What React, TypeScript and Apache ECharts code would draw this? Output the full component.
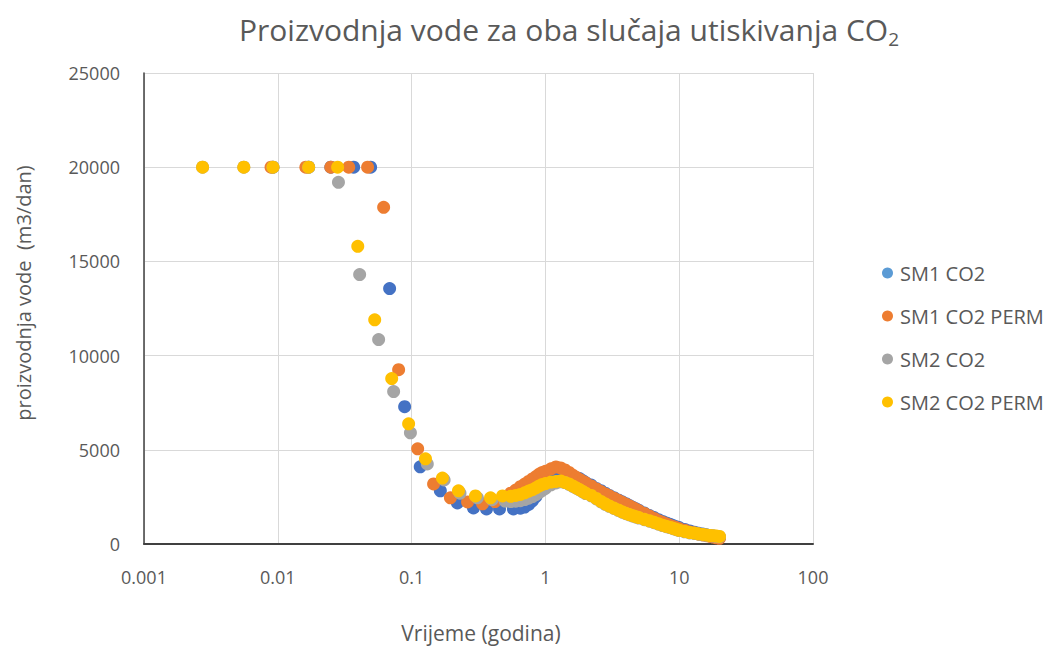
import React, { useEffect, useRef } from "react";
import * as echarts from "echarts";

// ---------- DATA ----------
const seriesNames = ["SM1 CO2", "SM1 CO2 PERM", "SM2 CO2", "SM2 CO2 PERM"];
const xTickLabels = ["0.001", "0.01", "0.1", "1", "10", "100"];
const yTickLabels = ["0", "5000", "10000", "15000", "20000", "25000"];

// shared late-time steps (years)
const denseTimes = [
  0.65, 0.7, 0.75, 0.8, 0.85, 0.9, 0.95,
  1.0, 1.1, 1.2, 1.3, 1.4, 1.5, 1.6, 1.7, 1.8, 1.9,
  2.0, 2.2, 2.4, 2.6, 2.8,
  3.0, 3.25, 3.5, 3.75,
  4.0, 4.25, 4.5, 4.75,
  5.0, 5.5, 6.0, 6.5, 7.0, 7.5, 8, 8.5, 9, 9.5, 10,
  11, 12, 13, 14, 15, 16, 17, 18, 19, 20,
];

// SM1 CO2
const sm1EarlyTimes = [0.0092, 0.017, 0.0249, 0.0369, 0.0494, 0.0685, 0.0887, 0.116, 0.164, 0.22, 0.29, 0.363, 0.454, 0.577];
const sm1EarlyRates = [20000, 20000, 20000, 20000, 20000, 13560, 7290, 4100, 2820, 2180, 1915, 1860, 1860, 1860];
const sm1DenseRates = [
  1900, 1960, 2100, 2290, 2520, 2790, 3060,
  3240, 3490, 3550, 3590, 3610, 3590, 3570, 3520, 3470, 3360,
  3260, 3130, 2950, 2830, 2700,
  2580, 2460, 2340, 2240,
  2140, 2040, 1950, 1870,
  1790, 1640, 1510, 1400, 1290, 1200, 1120, 1050, 980, 920, 870,
  770, 690, 630, 570, 530, 490, 450, 420, 380, 350,
];

// SM1 CO2 PERM
const sm1PermEarlyTimes = [0.0089, 0.0162, 0.0249, 0.0339, 0.0469, 0.0618, 0.08, 0.111, 0.146, 0.195, 0.262, 0.339, 0.42, 0.5, 0.55, 0.6];
const sm1PermEarlyRates = [20000, 20000, 20000, 20000, 20000, 17870, 9250, 5050, 3190, 2450, 2230, 2130, 2250, 2500, 2700, 2860];
const sm1PermDenseRates = [
  3040, 3180, 3320, 3450, 3580, 3710, 3800,
  3860, 3990, 4090, 4040, 3930, 3800, 3660, 3540, 3430, 3330,
  3250, 3080, 2920, 2780, 2660,
  2555, 2430, 2320, 2210,
  2110, 2020, 1930, 1840,
  1760, 1620, 1480, 1360, 1240, 1150, 1070, 990, 930, 870, 820,
  730, 640, 580, 520, 480, 440, 400, 370, 330, 300,
];

// SM2 CO2
const sm2EarlyTimes = [0.00274, 0.00557, 0.0092, 0.017, 0.0284, 0.0409, 0.0567, 0.0734, 0.098, 0.131, 0.175, 0.23, 0.31, 0.4, 0.5, 0.55, 0.6];
const sm2EarlyRates = [20000, 20000, 20000, 20000, 19200, 14300, 10850, 8090, 5900, 4250, 3400, 2700, 2450, 2350, 2280, 2250, 2270];
const sm2DenseRates = [
  2300, 2360, 2430, 2520, 2620, 2740, 2850,
  2950, 3140, 3240, 3300, 3260, 3170, 3060, 2960, 2870, 2770,
  2680, 2560, 2400, 2240, 2110,
  2000, 1890, 1790, 1690,
  1610, 1540, 1480, 1430,
  1380, 1290, 1210, 1130, 1050, 980, 920, 870, 810, 760, 710,
  650, 590, 560, 520, 490, 460, 440, 420, 400, 380,
];

// SM2 CO2 PERM
const sm2PermEarlyTimes = [0.00274, 0.00557, 0.0092, 0.017, 0.028, 0.0396, 0.053, 0.071, 0.095, 0.127, 0.17, 0.224, 0.3, 0.389, 0.478, 0.55, 0.6];
const sm2PermEarlyRates = [20000, 20000, 20000, 20000, 20000, 15800, 11900, 8780, 6380, 4520, 3500, 2820, 2550, 2450, 2550, 2530, 2580];
const sm2PermDenseRates = [
  2630, 2720, 2810, 2880, 2980, 3080, 3160,
  3210, 3290, 3320, 3350, 3270, 3190, 3080, 2980, 2890, 2790,
  2700, 2580, 2420, 2260, 2130,
  2020, 1910, 1810, 1710,
  1630, 1560, 1500, 1450,
  1400, 1310, 1230, 1150, 1070, 1000, 940, 890, 830, 780, 730,
  670, 610, 580, 540, 510, 480, 450, 440, 420, 400,
];

const seriesColors = ["#4472C4", "#ED7D31", "#A5A5A5", "#FFC000"];
const legendColors = ["#5B9BD5", "#ED7D31", "#A5A5A5", "#FFC000"];

const FONT = "'Open Sans', 'Noto Sans', sans-serif";
const TEXT = "#595959";

function pairs(t1: number[], v1: number[], t2: number[], v2: number[]) {
  const out: number[][] = [];
  t1.forEach((t, i) => out.push([t, v1[i]]));
  t2.forEach((t, i) => out.push([t, v2[i]]));
  return out;
}

export default function App() {
  const ref = useRef<HTMLDivElement>(null);

  useEffect(() => {
    document.body.style.margin = "0";
    if (!ref.current) return;
    const chart = echarts.init(ref.current, null, { renderer: "svg" });

    const data = [
      pairs(sm1EarlyTimes, sm1EarlyRates, denseTimes, sm1DenseRates),
      pairs(sm1PermEarlyTimes, sm1PermEarlyRates, denseTimes, sm1PermDenseRates),
      pairs(sm2EarlyTimes, sm2EarlyRates, denseTimes, sm2DenseRates),
      pairs(sm2PermEarlyTimes, sm2PermEarlyRates, denseTimes, sm2PermDenseRates),
    ];

    chart.setOption({
      animation: false,
      backgroundColor: "#ffffff",
      grid: { left: 144, top: 73, width: 669, height: 471, containLabel: false },
      xAxis: {
        type: "log",
        logBase: 10,
        min: 0.001,
        max: 100,
        axisLine: { show: true, onZero: false, lineStyle: { color: "#404040", width: 2 } },
        axisTick: { show: false },
        splitLine: { show: true, lineStyle: { color: "#D9D9D9", width: 1 } },
        axisLabel: {
          margin: 24,
          color: TEXT,
          fontFamily: FONT,
          fontSize: 18,
          formatter: (v: number) => {
            const f = xTickLabels.find((l) => Math.abs(Math.log10(Number(l)) - Math.log10(v)) < 1e-6);
            return f ?? String(v);
          },
        },
      },
      yAxis: {
        type: "value",
        min: 0,
        max: 25000,
        interval: 5000,
        axisLine: { show: true, lineStyle: { color: "#404040", width: 1.5 } },
        axisTick: { show: false },
        splitLine: { show: true, lineStyle: { color: "#D9D9D9", width: 1 } },
        axisLabel: {
          margin: 24,
          color: TEXT,
          fontFamily: FONT,
          fontSize: 18,
          formatter: (v: number) => yTickLabels[Math.round(v / 5000)] ?? String(v),
        },
      },
      legend: {
        orient: "vertical",
        left: 877,
        top: 257,
        itemWidth: 11,
        itemHeight: 11,
        itemGap: 21,
        icon: "circle",
        textStyle: { color: TEXT, fontFamily: FONT, fontSize: 20, lineHeight: 22, padding: [0, 0, 0, 2] },
        data: seriesNames.map((n, i) => ({ name: n, itemStyle: { color: legendColors[i] } })),
      },
      graphic: [
        {
          type: "text",
          x: 569,
          y: 29,
          style: {
            text: "Proizvodnja vode za oba slučaja utiskivanja CO{sub|2}",
            fontFamily: FONT,
            fontSize: 30,
            lineHeight: 38,
            fill: TEXT,
            align: "center",
            verticalAlign: "middle",
            rich: {
              sub: { fontFamily: FONT, fontSize: 19, lineHeight: 19, verticalAlign: "bottom", fill: TEXT },
            },
          },
        },
        {
          type: "text",
          x: 23,
          y: 293,
          rotation: Math.PI / 2,
          style: {
            text: "proizvodnja vode  (m3/dan)",
            fontFamily: FONT,
            fontSize: 20,
            fill: TEXT,
            align: "center",
            verticalAlign: "middle",
          },
        },
        {
          type: "text",
          x: 481,
          y: 633,
          style: {
            text: "Vrijeme (godina)",
            fontFamily: FONT,
            fontSize: 21,
            fill: TEXT,
            align: "center",
            verticalAlign: "middle",
          },
        },
      ],
      series: data.map((d, i) => ({
        name: seriesNames[i],
        type: "scatter",
        data: d,
        symbol: "circle",
        symbolSize: 13,
        itemStyle: { color: seriesColors[i], opacity: 1 },
        emphasis: { disabled: true },
      })),
    });

    return () => chart.dispose();
  }, []);

  return <div ref={ref} style={{ width: 1053, height: 650 }} />;
}
